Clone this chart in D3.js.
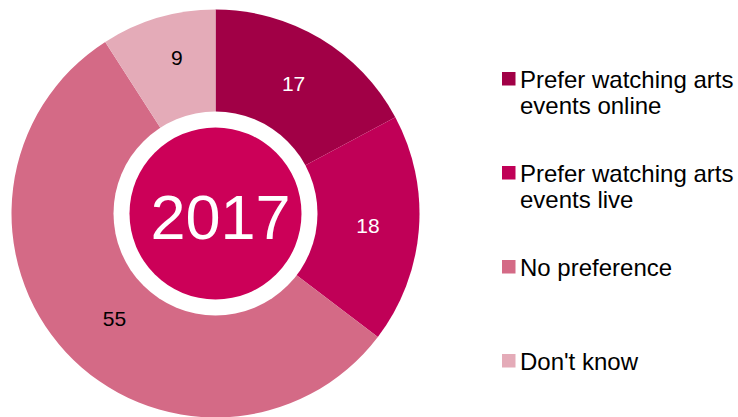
<!DOCTYPE html>
<html>
<head>
<meta charset="utf-8">
<script src="https://cdn.jsdelivr.net/npm/d3@7"></script>
<style>
  body { margin: 0; background: #fff; }
  svg { display: block; font-family: "Liberation Sans", Arial, sans-serif; }
</style>
</head>
<body>
<div class="chartContainer"></div>
<script>
// data
var categories = ['Prefer watching arts events online', 'Prefer watching arts events live', 'No preference', "Don't know"]
var legendLines = [['Prefer watching arts', 'events online'], ['Prefer watching arts', 'events live'], ['No preference'], ["Don't know"]]
var values = [17, 18, 55, 9]
var yearLabel = '2017'

// styling
var colors = ['#A10046', '#C00057', '#D46A86', '#E4ABB8']
var labelColors = ['#fff', '#fff', '#000', '#000']
var labelRadius = [152, 153, 146, 161]   // excel puts its labels a bit unevenly
var labelNudge = [0, 0, -3.5, 2.5]       // degrees

var width = 738, height = 417
var cx = 215.5, cy = 213.5

var svg = d3.select('.chartContainer')
    .append('svg')
    .attr('width', width)
    .attr('height', height)

var g = svg.append('g')
    .attr('transform', 'translate(' + cx + ',' + cy + ')')

var pie = d3.pie().sort(null).value(function (d) { return d })
var arcs = pie(values)

var arc = d3.arc().innerRadius(0).outerRadius(204)

// slices
g.selectAll('path.slice')
    .data(arcs)
    .enter()
    .append('path')
    .classed('slice', true)
    .attr('d', arc)
    .attr('fill', function (d, i) { return colors[i] })

// white ring + centre disc
g.append('circle').attr('r', 102).attr('fill', '#fff')
g.append('circle').attr('r', 86).attr('fill', '#CC0058')

g.append('text')
    .attr('text-anchor', 'middle')
    .attr('x', 5)
    .attr('y', 25.5)
    .attr('fill', '#fff')
    .style('font-size', '63px')
    .text(yearLabel)

// value labels
function labelPos(d, i) {
    var a = (d.startAngle + d.endAngle) / 2 + labelNudge[i] * Math.PI / 180
    return [Math.sin(a) * labelRadius[i], -Math.cos(a) * labelRadius[i]]
}

g.selectAll('text.val')
    .data(arcs)
    .enter()
    .append('text')
    .classed('val', true)
    .attr('text-anchor', 'middle')
    .attr('x', function (d, i) { return labelPos(d, i)[0] })
    .attr('y', function (d, i) { return labelPos(d, i)[1] + 7.5 })
    .attr('fill', function (d, i) { return labelColors[i] })
    .style('font-size', '21px')
    .text(function (d) { return d.data })

// legend
var legend = svg.append('g')
    .attr('transform', 'translate(502,0)')

var item = legend.selectAll('g.item')
    .data(categories)
    .enter()
    .append('g')
    .classed('item', true)
    .attr('transform', function (d, i) { return 'translate(0,' + (88 + i * 94) + ')' })

item.append('rect')
    .attr('x', 0)
    .attr('y', -16)
    .attr('width', 13.5)
    .attr('height', 13.5)
    .attr('fill', function (d, i) { return colors[i] })

item.append('text')
    .attr('fill', '#000')
    .style('font-size', '24px')
    .selectAll('tspan')
    .data(function (d, i) { return legendLines[i] })
    .enter()
    .append('tspan')
    .attr('x', 18)
    .attr('dy', function (d, j) { return j === 0 ? 0 : 26 })
    .text(function (d) { return d })
</script>
</body>
</html>
